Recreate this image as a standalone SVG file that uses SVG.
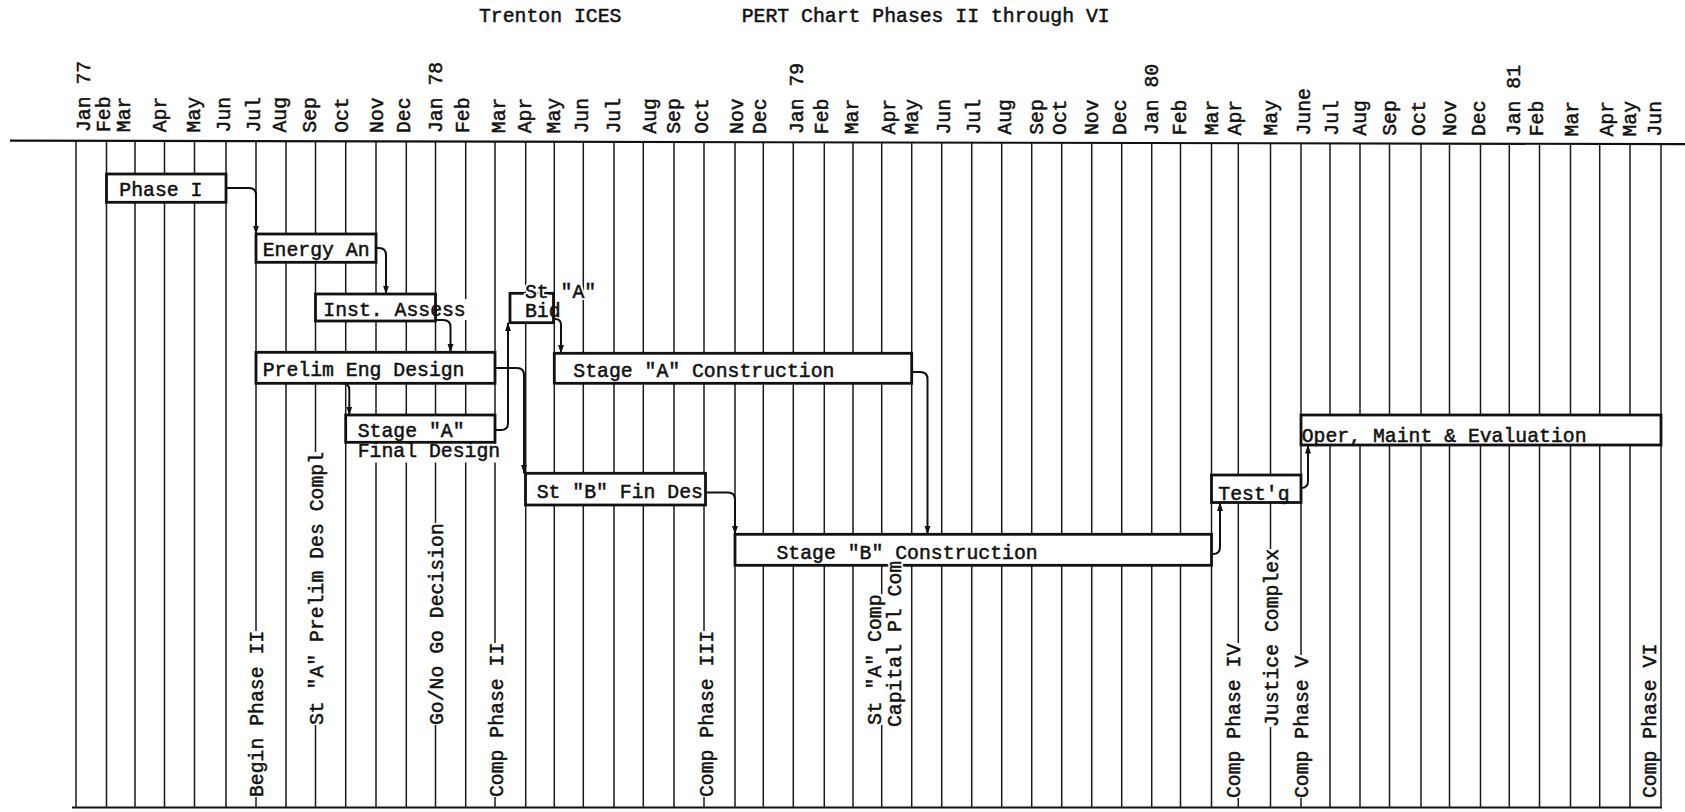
<svg xmlns="http://www.w3.org/2000/svg" width="1685" height="812" viewBox="0 0 1685 812">
<style>
text{font-family:"Liberation Mono","DejaVu Sans Mono",monospace;font-size:19.8px;fill:#111;stroke:#111;stroke-width:0.5}
.g line{stroke:#1a1a1a;stroke-width:1.5}
.ax{stroke:#111;stroke-width:2.2;fill:none}
.box rect{fill:#fff;stroke:#111;stroke-width:2.8}
.c{fill:none;stroke:#111;stroke-width:2;marker-end:url(#ah)}
text.halo{fill:#fff;stroke:#fff;stroke-width:4;stroke-linejoin:round}
.wipe{fill:#fff}
</style>
<defs>
<marker id="ah" markerUnits="userSpaceOnUse" markerWidth="9" markerHeight="7" refX="8.5" refY="3.5" orient="auto"><path d="M0,0.5 L9,3.5 L0,6.5 z" fill="#111"/></marker>
</defs>
<rect width="1685" height="812" fill="#fff"/>

<g id="title">
<text x="479" y="21.5">Trenton ICES</text>
<text x="741.7" y="21.5">PERT Chart Phases II through VI</text>
</g>

<g id="months">
<text transform="translate(89.7,132) rotate(-90)">Jan 77</text>
<text transform="translate(109.7,132.1) rotate(-90)">Feb</text>
<text transform="translate(129.7,132.2) rotate(-90)">Mar</text>
<text transform="translate(166.3,132.3) rotate(-90)">Apr</text>
<text transform="translate(199.7,132.4) rotate(-90)">May</text>
<text transform="translate(229.7,132.4) rotate(-90)">Jun</text>
<text transform="translate(259.7,132.5) rotate(-90)">Jul</text>
<text transform="translate(286.3,132.6) rotate(-90)">Aug</text>
<text transform="translate(316.3,132.7) rotate(-90)">Sep</text>
<text transform="translate(348,132.8) rotate(-90)">Oct</text>
<text transform="translate(383,132.9) rotate(-90)">Nov</text>
<text transform="translate(409.7,133) rotate(-90)">Dec</text>
<text transform="translate(442,133.1) rotate(-90)">Jan 78</text>
<text transform="translate(469,133.1) rotate(-90)">Feb</text>
<text transform="translate(504.7,133.2) rotate(-90)">Mar</text>
<text transform="translate(531.3,133.3) rotate(-90)">Apr</text>
<text transform="translate(559.7,133.4) rotate(-90)">May</text>
<text transform="translate(588,133.5) rotate(-90)">Jun</text>
<text transform="translate(619.7,133.6) rotate(-90)">Jul</text>
<text transform="translate(656.3,133.7) rotate(-90)">Aug</text>
<text transform="translate(679.7,133.8) rotate(-90)">Sep</text>
<text transform="translate(708,133.8) rotate(-90)">Oct</text>
<text transform="translate(743,133.9) rotate(-90)">Nov</text>
<text transform="translate(766.3,134) rotate(-90)">Dec</text>
<text transform="translate(803,134.1) rotate(-90)">Jan 79</text>
<text transform="translate(828,134.2) rotate(-90)">Feb</text>
<text transform="translate(858,134.3) rotate(-90)">Mar</text>
<text transform="translate(894.7,134.4) rotate(-90)">Apr</text>
<text transform="translate(918,134.4) rotate(-90)">May</text>
<text transform="translate(949.7,134.5) rotate(-90)">Jun</text>
<text transform="translate(979.7,134.6) rotate(-90)">Jul</text>
<text transform="translate(1011.3,134.7) rotate(-90)">Aug</text>
<text transform="translate(1043,134.8) rotate(-90)">Sep</text>
<text transform="translate(1066.3,134.9) rotate(-90)">Oct</text>
<text transform="translate(1098,135) rotate(-90)">Nov</text>
<text transform="translate(1126.3,135) rotate(-90)">Dec</text>
<text transform="translate(1158,135.1) rotate(-90)">Jan 80</text>
<text transform="translate(1186.3,135.2) rotate(-90)">Feb</text>
<text transform="translate(1218,135.3) rotate(-90)">Mar</text>
<text transform="translate(1241.3,135.4) rotate(-90)">Apr</text>
<text transform="translate(1277,135.5) rotate(-90)">May</text>
<text transform="translate(1309.7,135.6) rotate(-90)">June</text>
<text transform="translate(1338,135.7) rotate(-90)">Jul</text>
<text transform="translate(1366.3,135.7) rotate(-90)">Aug</text>
<text transform="translate(1396.3,135.8) rotate(-90)">Sep</text>
<text transform="translate(1424.7,135.9) rotate(-90)">Oct</text>
<text transform="translate(1456.3,136) rotate(-90)">Nov</text>
<text transform="translate(1484.7,136.1) rotate(-90)">Dec</text>
<text transform="translate(1519.7,136.2) rotate(-90)">Jan 81</text>
<text transform="translate(1543,136.3) rotate(-90)">Feb</text>
<text transform="translate(1578,136.4) rotate(-90)">Mar</text>
<text transform="translate(1613,136.5) rotate(-90)">Apr</text>
<text transform="translate(1636.3,136.5) rotate(-90)">May</text>
<text transform="translate(1661.3,136.6) rotate(-90)">Jun</text>
</g>

<g id="grid" class="g">
<line x1="76" y1="140.8" x2="76" y2="807"/>
<line x1="106.5" y1="140.9" x2="106.5" y2="807"/>
<line x1="135" y1="141" x2="135" y2="807"/>
<line x1="164.5" y1="141" x2="164.5" y2="807"/>
<line x1="194.5" y1="141.1" x2="194.5" y2="807"/>
<line x1="226" y1="141.1" x2="226" y2="807"/>
<line x1="256" y1="141.2" x2="256" y2="631"/>
<line x1="256" y1="797" x2="256" y2="807"/>
<line x1="286" y1="141.2" x2="286" y2="807"/>
<line x1="315.5" y1="141.3" x2="315.5" y2="452"/>
<line x1="315.5" y1="725" x2="315.5" y2="807"/>
<line x1="345.7" y1="141.4" x2="345.7" y2="807"/>
<line x1="376" y1="141.4" x2="376" y2="807"/>
<line x1="406.3" y1="141.5" x2="406.3" y2="807"/>
<line x1="435.5" y1="141.5" x2="435.5" y2="523"/>
<line x1="435.5" y1="725" x2="435.5" y2="807"/>
<line x1="465.7" y1="141.6" x2="465.7" y2="807"/>
<line x1="495" y1="141.7" x2="495" y2="643"/>
<line x1="495" y1="797" x2="495" y2="807"/>
<line x1="525.7" y1="141.7" x2="525.7" y2="807"/>
<line x1="554.3" y1="141.8" x2="554.3" y2="807"/>
<line x1="583.3" y1="141.8" x2="583.3" y2="807"/>
<line x1="614" y1="141.9" x2="614" y2="807"/>
<line x1="643.3" y1="142" x2="643.3" y2="807"/>
<line x1="674" y1="142" x2="674" y2="807"/>
<line x1="704" y1="142.1" x2="704" y2="631"/>
<line x1="704" y1="797" x2="704" y2="807"/>
<line x1="735" y1="142.1" x2="735" y2="807"/>
<line x1="763.3" y1="142.2" x2="763.3" y2="807"/>
<line x1="793.3" y1="142.2" x2="793.3" y2="807"/>
<line x1="824.3" y1="142.3" x2="824.3" y2="807"/>
<line x1="853" y1="142.4" x2="853" y2="807"/>
<line x1="881.7" y1="142.4" x2="881.7" y2="594"/>
<line x1="881.7" y1="725" x2="881.7" y2="807"/>
<line x1="911.7" y1="142.5" x2="911.7" y2="807"/>
<line x1="941.7" y1="142.5" x2="941.7" y2="807"/>
<line x1="971.7" y1="142.6" x2="971.7" y2="807"/>
<line x1="1001.7" y1="142.7" x2="1001.7" y2="807"/>
<line x1="1031.7" y1="142.7" x2="1031.7" y2="807"/>
<line x1="1061.7" y1="142.8" x2="1061.7" y2="807"/>
<line x1="1091.7" y1="142.8" x2="1091.7" y2="807"/>
<line x1="1121.7" y1="142.9" x2="1121.7" y2="807"/>
<line x1="1151.7" y1="142.9" x2="1151.7" y2="807"/>
<line x1="1180.5" y1="143" x2="1180.5" y2="807"/>
<line x1="1211.5" y1="143.1" x2="1211.5" y2="807"/>
<line x1="1238.3" y1="143.1" x2="1238.3" y2="643"/>
<line x1="1238.3" y1="798" x2="1238.3" y2="807"/>
<line x1="1270.5" y1="143.2" x2="1270.5" y2="549"/>
<line x1="1270.5" y1="727" x2="1270.5" y2="807"/>
<line x1="1301" y1="143.2" x2="1301" y2="655"/>
<line x1="1301" y1="798" x2="1301" y2="807"/>
<line x1="1330" y1="143.3" x2="1330" y2="807"/>
<line x1="1360" y1="143.4" x2="1360" y2="807"/>
<line x1="1389.5" y1="143.4" x2="1389.5" y2="807"/>
<line x1="1421" y1="143.5" x2="1421" y2="807"/>
<line x1="1449.5" y1="143.5" x2="1449.5" y2="807"/>
<line x1="1480.5" y1="143.6" x2="1480.5" y2="807"/>
<line x1="1509.3" y1="143.7" x2="1509.3" y2="807"/>
<line x1="1539.5" y1="143.7" x2="1539.5" y2="807"/>
<line x1="1570.5" y1="143.8" x2="1570.5" y2="807"/>
<line x1="1599.7" y1="143.8" x2="1599.7" y2="807"/>
<line x1="1630" y1="143.9" x2="1630" y2="807"/>
<line x1="1661" y1="144" x2="1661" y2="807"/>
</g>

<g id="axes">
<line class="ax" x1="10" y1="140.7" x2="1685" y2="144.1"/>
<line class="ax" x1="72" y1="807.5" x2="1662" y2="807.5"/>
</g>

<g id="wipes">
<rect class="wipe" x="437" y="299" width="31" height="21"/>
<rect class="wipe" x="355" y="443.5" width="146" height="19"/>
</g>

<g id="node-phase1" class="box"><rect x="106.5" y="174" width="119.5" height="28.3"/><text x="119.3" y="196">Phase I</text></g>
<g id="node-energy" class="box"><rect x="256" y="234" width="120" height="28.3"/><text x="262.7" y="256">Energy An</text></g>
<g id="node-inst" class="box"><rect x="315.5" y="294" width="120" height="27"/><text x="323.3" y="316">Inst. Assess</text></g>
<g id="node-prelim" class="box"><rect x="256" y="352.3" width="239" height="31"/><text x="262.7" y="376">Prelim Eng Design</text></g>
<g id="node-stageA-final" class="box"><rect x="345.7" y="415" width="149.3" height="27.3"/><text x="357.7" y="437">Stage "A"</text><text x="357.7" y="456.7">Final Design</text></g>
<g id="node-bid" class="box"><rect x="510" y="293.3" width="43.5" height="29.4"/><text class="halo" x="525" y="298.3">St "A"</text><text x="525" y="298.3">St "A"</text><text x="525" y="317.3">Bid</text></g>
<g id="node-stageA-con" class="box"><rect x="554.3" y="353.3" width="357.4" height="30"/><text x="573.3" y="376.7">Stage "A" Construction</text></g>
<g id="node-stB-fin" class="box"><rect x="525.5" y="473.3" width="180" height="31.7"/><text x="536.7" y="498.3">St "B" Fin Des</text></g>
<g id="node-stageB-con" class="box"><rect x="735" y="534.3" width="476.5" height="31"/><text x="776.5" y="558.5">Stage "B" Construction</text></g>
<g id="node-test" class="box"><rect x="1211.5" y="475" width="89.5" height="27.5"/><text x="1218.3" y="500">Test'g</text></g>
<g id="node-oper" class="box"><rect x="1301" y="415" width="360" height="30"/><text x="1301.7" y="441.7">Oper, Maint &amp; Evaluation</text></g>

<g id="connectors">
<path class="c" d="M226,188 H249 Q256,188 256,195 V234"/>
<path class="c" d="M376,248 H379 Q386,248 386,255 V294"/>
<path class="c" d="M435.5,320 H443 Q450.5,320 450.5,327 V352.3"/>
<path class="c" d="M340,383.3 H342 Q349.3,383.3 349.3,390 V415"/>
<path class="c" d="M495,368 H517 Q524,368 524,375 V473.3"/>
<path class="c" d="M495,430 H501 Q508,430 508,423 V322.7"/>
<path class="c" d="M553.5,319 H555 Q561,319 561,325 V353.3"/>
<path class="c" d="M911.7,372 H920 Q927.5,372 927.5,379 V534.3"/>
<path class="c" d="M705.5,492.5 H728 Q735,492.5 735,499.5 V534.3"/>
<path class="c" d="M1211.5,554 H1213 Q1220,554 1220,547 V502.5"/>
<path class="c" d="M1301,488 Q1308,488 1308,481 V445"/>
</g>

<g id="milestones">
<text transform="translate(263,797) rotate(-90)">Begin Phase II</text>
<text transform="translate(323,725) rotate(-90)">St "A" Prelim Des Compl</text>
<text transform="translate(443,725) rotate(-90)">Go/No Go Decision</text>
<text transform="translate(503,797) rotate(-90)">Comp Phase II</text>
<text transform="translate(713,797) rotate(-90)">Comp Phase III</text>
<text transform="translate(881,725) rotate(-90)">St "A" Comp</text>
<text class="halo" transform="translate(901,727) rotate(-90)">Capital Pl Com</text>
<text transform="translate(901,727) rotate(-90)">Capital Pl Com</text>
<text transform="translate(1240,798) rotate(-90)">Comp Phase IV</text>
<text transform="translate(1278,727) rotate(-90)">Justice Complex</text>
<text transform="translate(1308,798) rotate(-90)">Comp Phase V</text>
<text transform="translate(1656,798) rotate(-90)">Comp Phase VI</text>
</g>
</svg>
